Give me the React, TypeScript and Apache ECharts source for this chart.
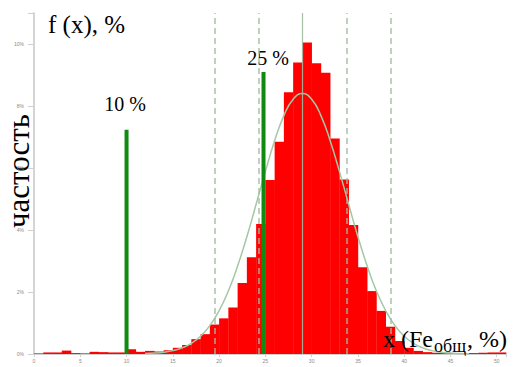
import React, { useEffect, useRef } from "react";
import * as echarts from "echarts";

// Histogram: bin left edges (Fe, %) and frequencies (%)
const binLeft = [
  0, 1, 2, 3, 4, 5, 6, 7, 8, 9, 10, 11, 12, 13, 14, 15, 16, 17, 18, 19, 20, 21, 22, 23, 24, 25,
  26, 27, 28, 29, 30, 31, 32, 33, 34, 35, 36, 37, 38, 39, 40, 41, 42, 43, 44, 45, 46, 47, 48, 49, 50,
];
const binFreq = [
  0.02, 0.05, 0.05, 0.11, 0.03, 0.02, 0.07, 0.06, 0.05, 0.05, 0.15, 0.07, 0.1, 0.08, 0.12, 0.2,
  0.29, 0.48, 0.64, 0.95, 1.15, 1.5, 2.29, 3.12, 4.19, 5.61, 6.85, 8.44, 9.4, 10.05, 9.38, 9.07,
  6.95, 5.63, 4.16, 2.8, 2.03, 1.39, 0.88, 0.42, 0.2, 0.1, 0.06, 0.04, 0.04, 0.03, 0.03, 0.03,
  0.04, 0.05, 0.05,
];
const binWidth = 1;

// Fitted density curve
const curveX = [
  12, 13, 14, 15, 16, 17, 18, 19, 20, 21, 22, 23, 24, 25, 26, 27, 28, 29, 30, 31, 32, 33, 34, 35,
  36, 37, 38, 39, 40, 41, 42, 43, 44, 45, 46, 47,
];
const curveY = [
  0.014, 0.029, 0.057, 0.109, 0.199, 0.345, 0.575, 0.916, 1.395, 2.03, 2.84, 3.78, 4.83, 5.89,
  6.88, 7.69, 8.22, 8.4, 8.22, 7.69, 6.88, 5.89, 4.83, 3.78, 2.84, 2.03, 1.395, 0.916, 0.575,
  0.345, 0.199, 0.109, 0.057, 0.029, 0.014, 0.006,
];

// Mean and sigma lines
const sigmaLines = [19.5, 24.25, 29, 33.75, 38.5];
const meanLine = 29;

// Threshold (green) lines: x position and height
const thresholdX = [10, 24.8];
const thresholdH = [7.23, 9.1];
const thresholdLabels = ["10 %", "25 %"];

const xTicks = [0, 5, 10, 15, 20, 25, 30, 35, 40, 45, 50];
const yTicks = [0, 2, 4, 6, 8, 10];

const SERIF = "'Liberation Serif', 'Times New Roman', serif";

export default function App() {
  const ref = useRef<HTMLDivElement>(null);

  useEffect(() => {
    if (!ref.current) return;
    const chart = echarts.init(ref.current, undefined, { renderer: "svg" });

    const histData = binLeft.map((x, i) => [x, binFreq[i]]);
    const curveData = curveX.map((x, i) => [x, curveY[i]]);
    const threshData = thresholdX.map((x, i) => [x, thresholdH[i]]);

    const option: any = {
      animation: false,
      backgroundColor: "#ffffff",
      grid: { left: 34, right: 10, top: 13, bottom: 13, containLabel: false },
      xAxis: {
        type: "value",
        min: 0,
        max: 51,
        interval: 5,
        axisLine: { show: true, lineStyle: { color: "#cfcfcf", width: 1 } },
        axisTick: { show: true, length: 3, lineStyle: { color: "#cfcfcf" } },
        axisLabel: {
          fontSize: 5,
          color: "#8a8a8a",
          margin: 4,
          formatter: (v: number) => (xTicks.includes(v) ? String(v) : ""),
        },
        splitLine: { show: false },
      },
      yAxis: {
        type: "value",
        min: 0,
        max: 11,
        interval: 2,
        axisLine: { show: true, lineStyle: { color: "#d4d4d4", width: 2 } },
        axisTick: { show: true, length: 6, lineStyle: { color: "#cfcfcf" } },
        axisLabel: {
          fontSize: 5,
          color: "#8a8a8a",
          margin: 10,
          formatter: (v: number) => (yTicks.includes(v) ? v + "%" : ""),
        },
        splitLine: { show: false },
      },
      series: [
        {
          type: "custom",
          z: 2,
          data: histData,
          renderItem: (params: any, api: any) => {
            const x0 = api.value(0);
            const v = api.value(1);
            const p1 = api.coord([x0, v]);
            const p2 = api.coord([x0 + binWidth, 0]);
            return {
              type: "rect",
              shape: { x: p1[0], y: p1[1], width: p2[0] - p1[0] + 0.3, height: p2[1] - p1[1] },
              style: { fill: "#ff0000" },
            };
          },
        },
        {
          type: "line",
          z: 3,
          data: curveData,
          smooth: true,
          showSymbol: false,
          symbol: "none",
          lineStyle: { color: "#a3c8a3", width: 1.5 },
          markLine: {
            silent: true,
            symbol: "none",
            label: { show: false },
            data: sigmaLines.map((x) => ({
              xAxis: x,
              lineStyle:
                x === meanLine
                  ? { type: "solid", color: "#9fb89f", width: 1.2, opacity: 0.9 }
                  : { type: [6, 4], color: "#a3b8a3", width: 1.5, opacity: 0.9 },
            })),
          },
        },
        {
          type: "custom",
          z: 5,
          data: threshData,
          renderItem: (params: any, api: any) => {
            const x = api.value(0);
            const h = api.value(1);
            const p1 = api.coord([x, 0]);
            const p2 = api.coord([x, h]);
            return {
              type: "line",
              shape: { x1: p1[0], y1: p1[1], x2: p2[0], y2: p2[1] },
              style: { stroke: "#108a10", lineWidth: 4 },
            };
          },
        },
      ],
      graphic: [
        {
          type: "text",
          left: 48,
          top: 12,
          style: { text: "f (x), %", font: `25px ${SERIF}`, fill: "#000" },
        },
        {
          type: "text",
          x: 18,
          y: 171,
          rotation: Math.PI / 2,
          style: {
            text: "частость",
            font: `31px ${SERIF}`,
            fill: "#000",
            textAlign: "center",
            textVerticalAlign: "middle",
          },
        },
        {
          type: "text",
          x: 125,
          y: 104,
          style: {
            text: thresholdLabels[0],
            font: `20px ${SERIF}`,
            fill: "#000",
            textAlign: "center",
            textVerticalAlign: "middle",
          },
        },
        {
          type: "text",
          x: 268,
          y: 58,
          style: {
            text: thresholdLabels[1],
            font: `20px ${SERIF}`,
            fill: "#000",
            textAlign: "center",
            textVerticalAlign: "middle",
          },
        },
        {
          type: "text",
          x: 383,
          y: 339,
          z: 10,
          style: {
            text: "x (Fe",
            font: `24px ${SERIF}`,
            fill: "#000",
            textAlign: "left",
            textVerticalAlign: "middle",
          },
        },
        {
          type: "text",
          x: 434,
          y: 346,
          z: 10,
          style: {
            text: "общ",
            font: `18px ${SERIF}`,
            fill: "#000",
            textAlign: "left",
            textVerticalAlign: "middle",
          },
        },
        {
          type: "text",
          x: 467,
          y: 339,
          z: 10,
          style: {
            text: ", %)",
            font: `24px ${SERIF}`,
            fill: "#000",
            textAlign: "left",
            textVerticalAlign: "middle",
          },
        },
      ],
    };

    chart.setOption(option);
    return () => chart.dispose();
  }, []);

  return <div ref={ref} style={{ width: 516, height: 367, position: "absolute", left: 0, top: 0 }} />;
}
